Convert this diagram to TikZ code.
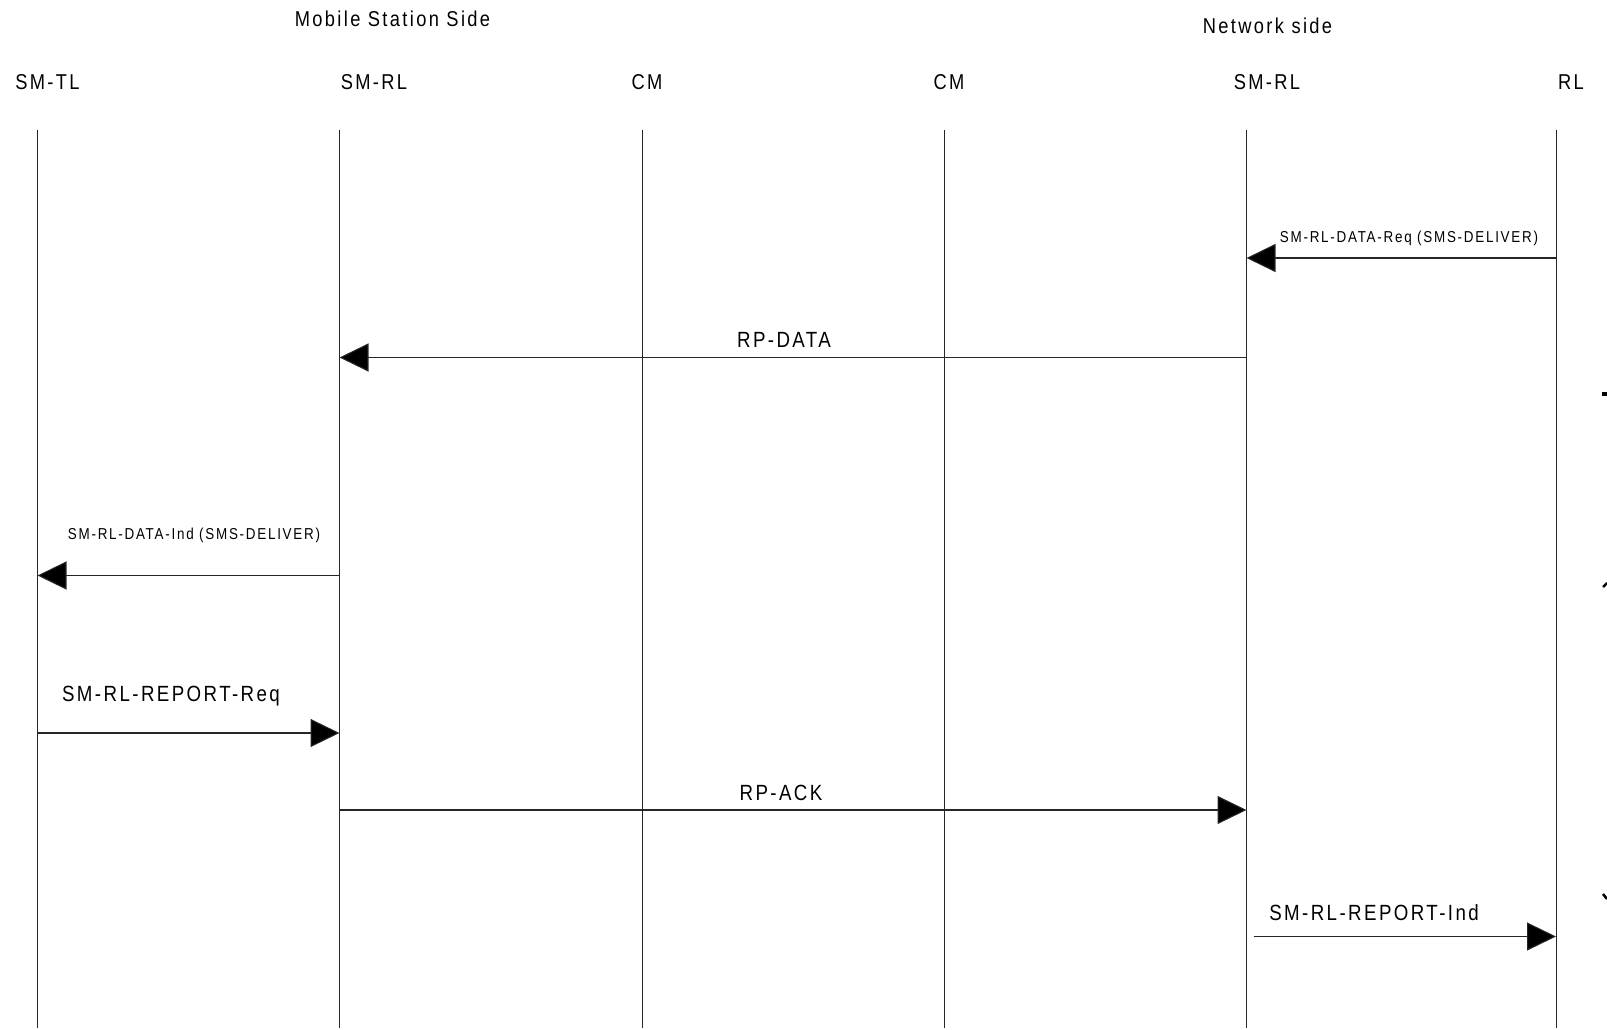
\documentclass[tikz,border=0pt]{standalone}
\usepackage{fontspec}
\setmainfont[FakeStretch=0.85,LetterSpace=11]{Liberation Sans}
\usetikzlibrary{arrows.meta}
\tikzset{
  lifeline/.style={draw=black!85, line width=1pt},
  msg/.style={draw=black!85, line width=1.1pt, -{Triangle[length=29pt,width=28pt,fill=black]}},
  hdr/.style={anchor=base, inner sep=0pt, font=\fontsize{21.5}{24}\selectfont},
  biglab/.style={anchor=base, inner sep=0pt, font=\fontsize{22}{24}\selectfont},
  smalllab/.style={anchor=base, inner sep=0pt, font=\fontsize{15.8}{18}\selectfont},
  clipmark/.style={fill=black}
}
\begin{document}
\begin{tikzpicture}[x=1pt,y=-1pt]
\useasboundingbox (0,0) rectangle (1607,1030);
% side titles
\node[hdr] (ms) at (392.5,27) {Mobile Station Side};
\node[hdr] (nw) at (1267.5,34) {Network side};
% entity labels
\node[hdr] (h1) at (47.5,90) {SM-TL};
\node[hdr] (h2) at (374,90) {SM-RL};
\node[hdr] (h3) at (647,90) {CM};
\node[hdr] (h4) at (949,90) {CM};
\node[hdr] (h5) at (1267,90) {SM-RL};
\node[hdr] (h6) at (1571,90) {RL};
% lifelines
\foreach \n/\x in {a/37.5,b/339.5,c/642,d/944,e/1246.5,f/1556}{
  \coordinate (\n top) at (\x,130);
  \coordinate (\n bot) at (\x,1028);
  \draw[lifeline] (\n top) -- (\n bot);
}
% message 1
\coordinate (m1s) at (1556,258);
\coordinate (m1e) at (1246.5,258);
\draw[msg] (m1s) -- (m1e);
\node[smalllab] (l1) at (1409,242.5) {SM-RL-DATA-Req (SMS-DELIVER)};
% message 2
\coordinate (m2s) at (1246.5,357.5);
\coordinate (m2e) at (339.5,357.5);
\draw[msg] (m2s) -- (m2e);
\node[biglab] (l2) at (784,347.5) {RP-DATA};
% message 3
\coordinate (m3s) at (339.5,575.5);
\coordinate (m3e) at (37.5,575.5);
\draw[msg] (m3s) -- (m3e);
\node[smalllab] (l3) at (194,539.5) {SM-RL-DATA-Ind (SMS-DELIVER)};
% message 4
\coordinate (m4s) at (37.5,733);
\coordinate (m4e) at (339.5,733);
\draw[msg] (m4s) -- (m4e);
\node[biglab] (l4) at (171,701.5) {SM-RL-REPORT-Req};
% message 5
\coordinate (m5s) at (339.5,810);
\coordinate (m5e) at (1246.5,810);
\draw[msg] (m5s) -- (m5e);
\node[biglab] (l5) at (781,800) {RP-ACK};
% message 6
\coordinate (m6s) at (1253.5,936.5);
\coordinate (m6e) at (1556,936.5);
\draw[msg] (m6s) -- (m6e);
\node[biglab] (l6) at (1374,920) {SM-RL-REPORT-Ind};
% clipped marks at right edge
\fill[clipmark] (1602,392) rectangle (1607,395.5);
\draw[line width=2.5pt] (1603,587) -- (1607,583);
\draw[line width=2.5pt] (1603,894) -- (1607,899);
\end{tikzpicture}
\end{document}
